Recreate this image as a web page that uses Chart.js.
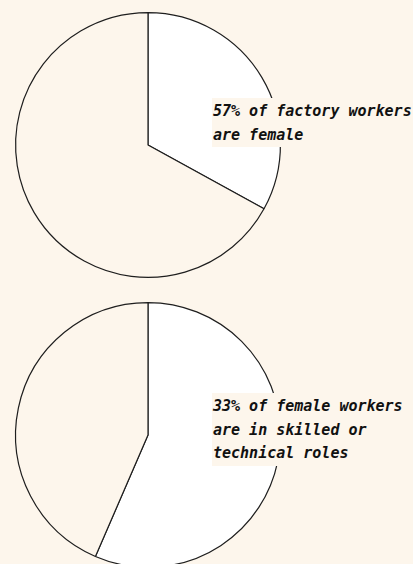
<!DOCTYPE html>
<html>
<head>
<meta charset="utf-8">
<script src="https://cdn.jsdelivr.net/npm/chart.js@4/dist/chart.umd.min.js"></script>
<style>
  html, body { margin: 0; padding: 0; background: #fdf6ec; width: 413px; height: 564px; overflow: hidden; }
  .wrap { position: absolute; left: 0; width: 296px; height: 290px; }
  .note {
    position: absolute; left: 212px; right: 0;
    background: #fdf6ec; color: #111;
    font-family: "DejaVu Sans Mono", monospace; font-weight: bold; font-style: italic;
    font-size: 15px; line-height: 23.5px; padding: 2px 0 0 1px; white-space: pre;
  }
</style>
</head>
<body>
<div class="wrap" style="top:0"><canvas id="c1" width="296" height="290"></canvas></div>
<div class="wrap" style="top:290px"><canvas id="c2" width="296" height="290"></canvas></div>
<div class="note" id="n1" style="top:98px"></div>
<div class="note" id="n2" style="top:393px"></div>
<script>
const sliceLabels = ["Highlighted", "Remainder"];
const topValues = [33, 67];
const bottomValues = [56.5, 43.5];
const topNote = ["57% of factory workers", "are female"];
const bottomNote = ["33% of female workers", "are in skilled or", "technical roles"];
const sliceColors = ["#ffffff", "#fdf6ec"];

document.getElementById("n1").textContent = topNote.join("\n");
document.getElementById("n2").textContent = bottomNote.join("\n");

function makePie(id, values) {
  new Chart(document.getElementById(id), {
    type: "pie",
    data: {
      labels: sliceLabels,
      datasets: [{
        data: values,
        backgroundColor: sliceColors,
        borderColor: "#1e1e1e",
        borderWidth: 1.2
      }]
    },
    options: {
      responsive: false,
      animation: false,
      layout: { padding: 12 },
      plugins: { legend: { display: false }, tooltip: { enabled: false } }
    }
  });
}
makePie("c1", topValues);
makePie("c2", bottomValues);
</script>
</body>
</html>
